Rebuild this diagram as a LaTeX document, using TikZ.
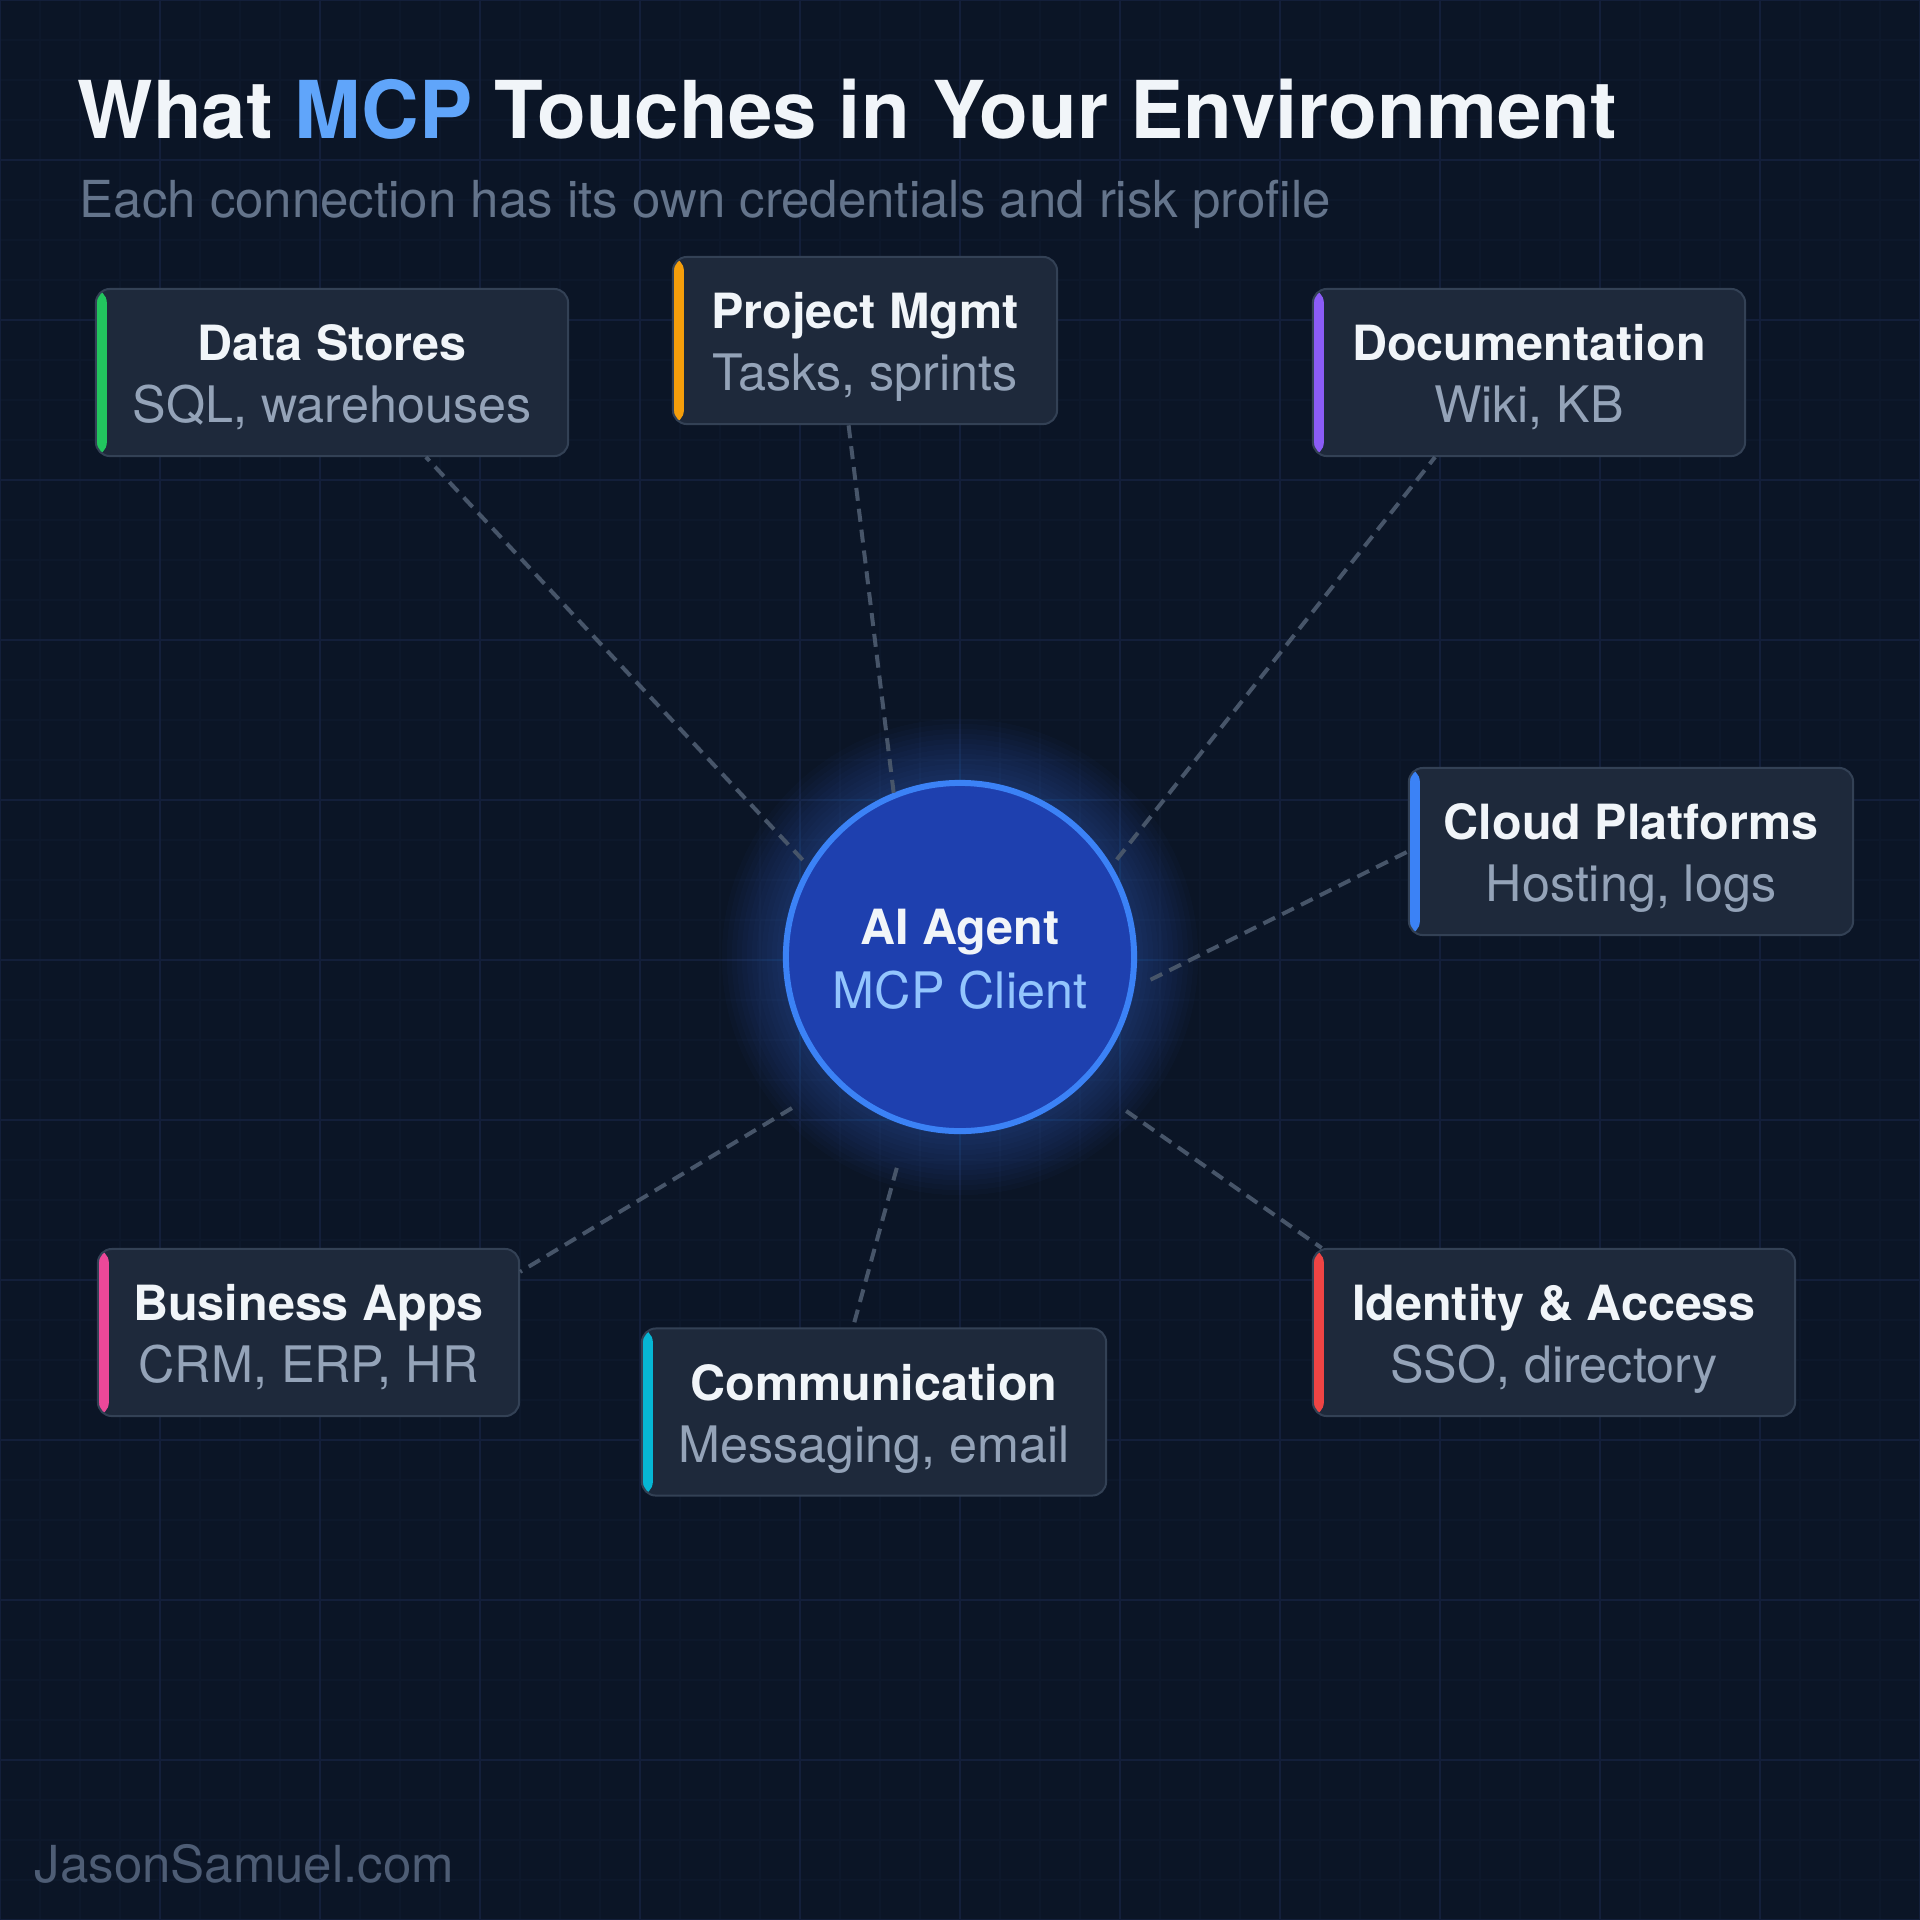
\documentclass[tikz,border=0pt]{standalone}
\usepackage{fontspec}
\setmainfont{TeX Gyre Heros}
\usetikzlibrary{positioning}

\definecolor{bg}{HTML}{0B1526}
\definecolor{gridmajor}{HTML}{131F3A}
\definecolor{gridminor}{HTML}{0D182B}
\definecolor{titlewhite}{HTML}{F1F5F9}
\definecolor{mcpblue}{HTML}{60A5FA}
\definecolor{subgray}{HTML}{64748B}
\definecolor{boxfill}{HTML}{1E293B}
\definecolor{boxline}{HTML}{334155}
\definecolor{subtext}{HTML}{94A3B8}
\definecolor{linegray}{HTML}{475569}
\definecolor{hubfill}{HTML}{1E40AF}
\definecolor{hubline}{HTML}{3B82F6}
\definecolor{hubsubtext}{HTML}{93C5FD}
\definecolor{footgray}{HTML}{4E5D75}
\definecolor{acgreen}{HTML}{22C55E}
\definecolor{acorange}{HTML}{F59E0B}
\definecolor{acpurple}{HTML}{8B5CF6}
\definecolor{acblue}{HTML}{3B82F6}
\definecolor{acpink}{HTML}{EC4899}
\definecolor{accyan}{HTML}{06B6D4}
\definecolor{acred}{HTML}{EF4444}

\begin{document}
\begin{tikzpicture}[
  x=0.01cm,y=-0.01cm,
  gridline/.style={draw=gridmajor,line width=0.02cm},
  gridfine/.style={draw=gridminor,line width=0.015cm},
  glow/.style={fill=hubline,opacity=0.028},
  link/.style={draw=linegray,line width=0.04cm,dash pattern=on 0.13cm off 0.08cm},
  svc/.style={draw=boxline,line width=0.02cm,fill=boxfill,rounded corners=0.14cm,
    minimum height=1.67cm,inner sep=0pt,
    path picture={\fill[#1] (path picture bounding box.south west) rectangle ([xshift=0.11cm]path picture bounding box.north west);}},
  head/.style={anchor=base,inner sep=0pt,text=titlewhite,font=\fontsize{13.8}{16}\selectfont\bfseries},
  sub/.style={anchor=base,inner sep=0pt,text=subtext,font=\fontsize{14.3}{17}\selectfont},
  hub/.style={circle,draw=hubline,line width=0.06cm,fill=hubfill,minimum size=3.48cm,inner sep=0pt}
]
\useasboundingbox (0,0) rectangle (1920,1920);
\fill[bg] (0,0) rectangle (1920,1920);
% grid
\foreach \g in {40,80,...,1880} {
  \draw[gridfine] (\g,0) -- (\g,1920);
  \draw[gridfine] (0,\g) -- (1920,\g);
}
\foreach \g in {0,160,...,1920} {
  \draw[gridline] (\g,0) -- (\g,1920);
  \draw[gridline] (0,\g) -- (1920,\g);
}

% heading
\node[anchor=base west,inner sep=0pt,text=titlewhite,font=\fontsize{22.7}{27}\selectfont\bfseries] (title) at (77,138)
  {What \textcolor{mcpblue}{MCP} Touches in Your Environment};
\node[anchor=base west,inner sep=0pt,text=subgray,font=\fontsize{14.5}{17}\selectfont] (subtitle) at (79,217)
  {Each connection has its own credentials and risk profile};

% agent in the middle
\coordinate (center) at (960,957);
\foreach \r in {1.78,1.83,...,2.40} \fill[glow] (center) circle[radius=\r cm];
\node[hub] (agent) at (center) {};
\node[head,font=\fontsize{13.8}{16}\selectfont\bfseries] (agent-t) at ([yshift=0.13cm]agent.center) {AI Agent};
\node[sub,text=hubsubtext] (agent-s) at ([yshift=-0.51cm]agent.center) {MCP Client};

% services
\node[svc=acgreen,minimum width=4.72cm] (data) at (332,372.5) {};
\node[head] (data-t) at ([yshift=0.12cm]data.center) {Data Stores};
\node[sub] (data-s) at ([yshift=-0.50cm]data.center) {SQL, warehouses};

\node[svc=acorange,minimum width=3.84cm] (project) at (865,340.5) {};
\node[head] (project-t) at ([yshift=0.12cm]project.center) {Project Mgmt};
\node[sub] (project-s) at ([yshift=-0.50cm]project.center) {Tasks, sprints};

\node[svc=acpurple,minimum width=4.32cm] (docs) at (1529,372.5) {};
\node[head] (docs-t) at ([yshift=0.12cm]docs.center) {Documentation};
\node[sub] (docs-s) at ([yshift=-0.50cm]docs.center) {Wiki, KB};

\node[svc=acblue,minimum width=4.44cm] (cloud) at (1631,851.5) {};
\node[head] (cloud-t) at ([yshift=0.12cm]cloud.center) {Cloud Platforms};
\node[sub] (cloud-s) at ([yshift=-0.50cm]cloud.center) {Hosting, logs};

\node[svc=acpink,minimum width=4.21cm] (biz) at (308.5,1332.5) {};
\node[head] (biz-t) at ([yshift=0.12cm]biz.center) {Business Apps};
\node[sub] (biz-s) at ([yshift=-0.50cm]biz.center) {CRM, ERP, HR};

\node[svc=accyan,minimum width=4.64cm] (comm) at (874,1412) {};
\node[head] (comm-t) at ([yshift=0.12cm]comm.center) {Communication};
\node[sub] (comm-s) at ([yshift=-0.50cm]comm.center) {Messaging, email};

\node[svc=acred,minimum width=4.82cm] (idam) at (1554,1332.5) {};
\node[head] (idam-t) at ([yshift=0.12cm]idam.center) {Identity \& Access};
\node[sub] (idam-s) at ([yshift=-0.50cm]idam.center) {SSO, directory};

% dashed connections
\draw[link,shorten <=0.08cm] (agent.149) -- (data.-42);
\draw[link] (agent.112) -- (project.-101);
\draw[link,shorten <=0.08cm] (agent.31) -- (docs.-138);
\draw[link,shorten <=0.18cm] (agent.-10) -- (cloud.west);
\draw[link,shorten <=0.50cm] (agent.-135) -- (biz.16);
\draw[link,shorten <=0.43cm] (agent.-107) -- (comm.104);
\draw[link,shorten <=0.50cm] (agent.-45) -- (idam.160);

\node[anchor=base west,inner sep=0pt,text=footgray,font=\fontsize{14.5}{17}\selectfont] (footer) at (34,1882) {JasonSamuel.com};
\end{tikzpicture}
\end{document}
